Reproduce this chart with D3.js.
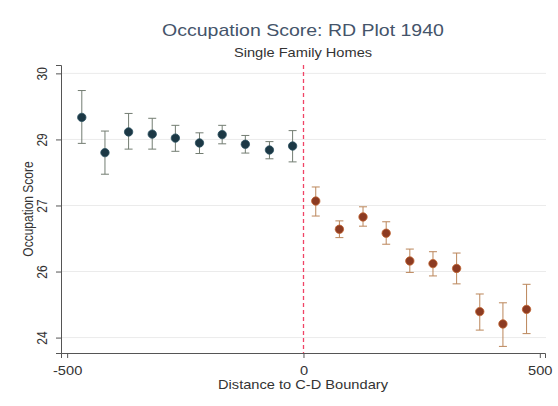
<!DOCTYPE html>
<html>
<head>
<meta charset="utf-8">
<script src="https://cdn.jsdelivr.net/npm/d3@7"></script>
<style>
  html, body { margin: 0; padding: 0; background: #ffffff; }
  svg { display: block; }
  text { font-family: "Liberation Sans", Arial, sans-serif; }
</style>
</head>
<body>
<svg id="chart" width="558" height="406"></svg>
<script>
// ---- data ----
const leftX   = [-469, -420, -370, -320, -271, -220, -172, -123, -72, -23];
const leftY   = [29.00, 28.20, 28.67, 28.62, 28.53, 28.42, 28.61, 28.39, 28.26, 28.35];
const leftLo  = [28.41, 27.71, 28.28, 28.28, 28.23, 28.18, 28.40, 28.19, 28.06, 27.99];
const leftHi  = [29.61, 28.69, 29.09, 28.98, 28.82, 28.65, 28.82, 28.59, 28.45, 28.70];

const rightX  = [26, 76, 126, 175, 225, 274, 324, 373, 422, 472];
const rightY  = [27.10, 26.46, 26.74, 26.37, 25.74, 25.68, 25.57, 24.59, 24.31, 24.64];
const rightLo = [26.76, 26.27, 26.53, 26.12, 25.48, 25.40, 25.22, 24.17, 23.80, 24.09];
const rightHi = [27.42, 26.65, 26.97, 26.63, 26.01, 25.95, 25.92, 24.99, 24.79, 25.21];

const xTicks = [-500, 0, 500];
const xTickLabels = ["-500", "0", "500"];
const yTicks = [24, 25.5, 27, 28.5, 30];
const yTickLabels = ["24", "26", "27", "29", "30"];

const titleText = "Occupation Score: RD Plot 1940";
const subtitleText = "Single Family Homes";
const xTitle = "Distance to C-D Boundary";
const yTitle = "Occupation Score";

// ---- layout ----
const svg = d3.select("#chart");
const x = d3.scaleLinear().domain([-513, 511]).range([61, 545]);
const y = d3.scaleLinear().domain([23.65, 30.19]).range([353, 65]);
const sx = 1.22; // horizontal stretch of the original image's text

// gridlines
svg.append("g").selectAll("line").data(yTicks).join("line")
  .attr("x1", x.range()[0]).attr("x2", x.range()[1] + 1)
  .attr("y1", d => y(d)).attr("y2", d => y(d))
  .attr("stroke", "#ebebeb").attr("stroke-width", 1);

// axes
const xAxis = d3.axisBottom(x).tickValues(xTicks)
  .tickFormat((d, i) => xTickLabels[i]).tickSizeOuter(0).tickSize(5);
const gx = svg.append("g").attr("transform", `translate(0,${y.range()[0]})`).call(xAxis);
gx.select(".domain").attr("stroke", "#555");
gx.selectAll(".tick line").attr("stroke", "#555");
gx.selectAll(".tick text").attr("font-size", 12).attr("fill", "#333")
  .attr("y", null).attr("dy", null)
  .attr("transform", `translate(0,22) scale(${sx},1)`);

const yAxis = d3.axisLeft(y).tickValues(yTicks)
  .tickFormat((d, i) => yTickLabels[i]).tickSizeOuter(0).tickSize(5);
const gy = svg.append("g").attr("transform", `translate(${x.range()[0]},0)`).call(yAxis);
gy.select(".domain").attr("stroke", "#555");
gy.selectAll(".tick line").attr("stroke", "#555");
gy.selectAll(".tick text")
  .attr("font-size", 12).attr("fill", "#333")
  .attr("x", null).attr("dy", null)
  .attr("text-anchor", "middle")
  .attr("transform", `translate(-19,0) scale(${sx},1) rotate(-90)`)
  .attr("dominant-baseline", "central");

// cutoff line
const cx0 = Math.round(x(0)) + 0.5;
svg.append("line")
  .attr("x1", cx0).attr("x2", cx0)
  .attr("y1", y.range()[1]).attr("y2", y.range()[0])
  .attr("stroke", "#f04466").attr("stroke-width", 1.3)
  .attr("stroke-dasharray", "4,3");

// series
function drawSeries(xs, ys, los, his, markFill, markStroke, barColor) {
  const data = xs.map((d, i) => ({ x: d, y: ys[i], lo: los[i], hi: his[i] }));
  const g = svg.append("g");
  const cap = 4;
  g.selectAll("line.spike").data(data).join("line")
    .attr("x1", d => x(d.x)).attr("x2", d => x(d.x))
    .attr("y1", d => y(d.lo)).attr("y2", d => y(d.hi))
    .attr("stroke", barColor).attr("stroke-width", 1);
  g.selectAll("line.capt").data(data).join("line")
    .attr("x1", d => x(d.x) - cap).attr("x2", d => x(d.x) + cap)
    .attr("y1", d => y(d.hi)).attr("y2", d => y(d.hi))
    .attr("stroke", barColor).attr("stroke-width", 1);
  g.selectAll("line.capb").data(data).join("line")
    .attr("x1", d => x(d.x) - cap).attr("x2", d => x(d.x) + cap)
    .attr("y1", d => y(d.lo)).attr("y2", d => y(d.lo))
    .attr("stroke", barColor).attr("stroke-width", 1);
  g.selectAll("circle").data(data).join("circle")
    .attr("cx", d => x(d.x)).attr("cy", d => y(d.y)).attr("r", 4.2)
    .attr("fill", markFill).attr("stroke", markStroke).attr("stroke-width", 0.8);
}
drawSeries(leftX, leftY, leftLo, leftHi, "#1c3845", "#2b5060", "#737d72");
drawSeries(rightX, rightY, rightLo, rightHi, "#8c3b22", "#c0622e", "#bb865a");

// titles
function stretchedText(xp, yp, size, fill, str) {
  svg.append("text")
    .attr("transform", `translate(${xp},${yp}) scale(${sx},1)`)
    .attr("text-anchor", "middle").attr("font-size", size).attr("fill", fill)
    .text(str);
}
stretchedText(303, 36, 16, "#44546a", titleText);
stretchedText(303, 57, 12, "#333", subtitleText);
stretchedText(303, 389, 12, "#333", xTitle);
svg.append("text")
  .attr("transform", `translate(28,${(y.range()[0] + y.range()[1]) / 2}) scale(${sx},1) rotate(-90)`)
  .attr("text-anchor", "middle").attr("dominant-baseline", "central")
  .attr("font-size", 12).attr("fill", "#333")
  .text(yTitle);
</script>
</body>
</html>
